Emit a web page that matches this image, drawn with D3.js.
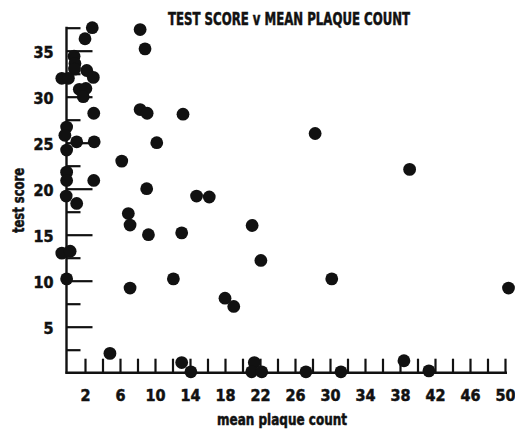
<!DOCTYPE html>
<html>
<head>
<meta charset="utf-8">
<script src="https://cdn.jsdelivr.net/npm/d3@7"></script>
<style>
  html, body { margin: 0; padding: 0; background: #fff; }
  svg { display: block; }
  .lbl { font-family: "Liberation Sans Narrow", "DejaVu Sans Condensed", "DejaVu Sans", sans-serif; font-weight: bold; font-stretch: condensed; fill: #111; stroke: #111; stroke-width: 0.5; }
</style>
</head>
<body>
<svg id="chart" width="515" height="434"></svg>
<script>
// Mean plaque count (x) against test score (y), one entry per subject
const plaque = [
  2.83, 2.0, 0.75, 0.85, 0.8, -0.65, 0.1, 2.2, 2.95, 1.35,
  2.1, 1.8, 3.0, -0.1, -0.3, 1.05, 3.05, -0.1, -0.1, -0.1,
  3.0, -0.15, 1.05, -0.65, 0.3, -0.1,
  8.3, 8.86, 8.3, 9.1, 13.2, 10.2, 6.2, 9.05, 14.75, 16.2,
  6.95, 7.15, 9.25, 13.05, 7.15, 12.1, 4.85, 13.05, 14.1, 21.1,
  22.1, 18.0, 19.0, 28.3, 30.2, 39.1, 50.4, 21.35, 21.05, 22.2,
  27.25, 31.25, 38.45, 41.3
];
const score = [
  37.5, 36.3, 34.4, 33.6, 33.0, 32.0, 32.0, 32.85, 32.1, 30.8,
  30.9, 30.0, 28.2, 26.7, 25.8, 25.1, 25.1, 24.2, 21.8, 20.9,
  20.9, 19.2, 18.4, 13.0, 13.2, 10.2,
  37.3, 35.2, 28.6, 28.2, 28.1, 25.0, 23.0, 20.0, 19.2, 19.1,
  17.3, 16.05, 15.0, 15.2, 9.2, 10.2, 2.1, 1.1, 0.1, 16.0,
  12.2, 8.1, 7.2, 26.0, 10.2, 22.1, 9.2, 1.1, 0.1, 0.1,
  0.1, 0.1, 1.3, 0.2
];

// Axis ticks
const xTicks = d3.range(2, 51, 2);
const xTickLabels = [2, 6, 10, 14, 18, 22, 26, 30, 34, 38, 42, 46, 50];
const yMajorTicks = [5, 10, 15, 20, 25, 30, 35];
const yMinorTicks = [2.5, 7.5, 12.5, 17.5, 22.5, 27.5, 32.5, 37.5];

const title = "TEST SCORE v MEAN PLAQUE COUNT";
const xTitle = "mean plaque count";
const yTitle = "test score";

const svg = d3.select("#chart");

const x = d3.scaleLinear().domain([0, 50]).range([67.5, 505]);
const y = d3.scaleLinear().domain([0, 37.5]).range([372.7, 27.7]);

const ink = "#111";
const axisX = 66.5;

// Y axis: long ticks at multiples of 5, short ticks between, all pointing inward
const yMajor = svg.append("g")
  .attr("transform", `translate(${axisX},0)`)
  .call(d3.axisLeft(y).tickValues(yMajorTicks).tickSizeInner(-26).tickSizeOuter(0).tickPadding(13));
const yMinor = svg.append("g")
  .attr("transform", `translate(${axisX},0)`)
  .call(d3.axisLeft(y).tickValues(yMinorTicks).tickSizeInner(-14).tickSizeOuter(0).tickFormat(""));

// X axis: a short upward tick every 2 units, labels every 4
const xAxis = svg.append("g")
  .attr("transform", `translate(0,${y(0)})`)
  .call(d3.axisBottom(x).tickValues(xTicks).tickSizeInner(-14).tickSizeOuter(0).tickPadding(17)
    .tickFormat(d => xTickLabels.includes(d) ? d : ""));

[yMajor, yMinor, xAxis].forEach(g => {
  g.select(".domain").remove();
  g.selectAll(".tick line").attr("stroke", ink).attr("stroke-width", 2.2);
  g.selectAll(".tick text")
    .attr("class", "lbl")
    .attr("font-size", 16)
    .attr("fill", ink);
});
yMajor.selectAll(".tick text").attr("dy", "0.42em");

// Axis lines
svg.append("line")
  .attr("x1", axisX).attr("x2", axisX)
  .attr("y1", y(37.5) - 1).attr("y2", y(0) + 1)
  .attr("stroke", ink).attr("stroke-width", 2.4);
svg.append("line")
  .attr("x1", axisX - 1).attr("x2", x(50) + 2)
  .attr("y1", y(0)).attr("y2", y(0))
  .attr("stroke", ink).attr("stroke-width", 2.4);

// Points
const pts = plaque.map((p, i) => ({ p, s: score[i] }));
svg.append("g")
  .selectAll("circle")
  .data(pts)
  .join("circle")
  .attr("cx", d => x(d.p))
  .attr("cy", d => y(d.s))
  .attr("r", 6.4)
  .attr("fill", ink);

// Titles
svg.append("text")
  .attr("class", "lbl")
  .attr("x", 168).attr("y", 25)
  .attr("font-size", 17)
  .attr("textLength", 242).attr("lengthAdjust", "spacingAndGlyphs")
  .text(title);

svg.append("text")
  .attr("class", "lbl")
  .attr("x", 217).attr("y", 425)
  .attr("font-size", 15)
  .attr("textLength", 130).attr("lengthAdjust", "spacingAndGlyphs")
  .text(xTitle);

svg.append("text")
  .attr("class", "lbl")
  .attr("transform", "translate(24,233) rotate(-90)")
  .attr("font-size", 15)
  .attr("textLength", 65).attr("lengthAdjust", "spacingAndGlyphs")
  .text(yTitle);
</script>
</body>
</html>
